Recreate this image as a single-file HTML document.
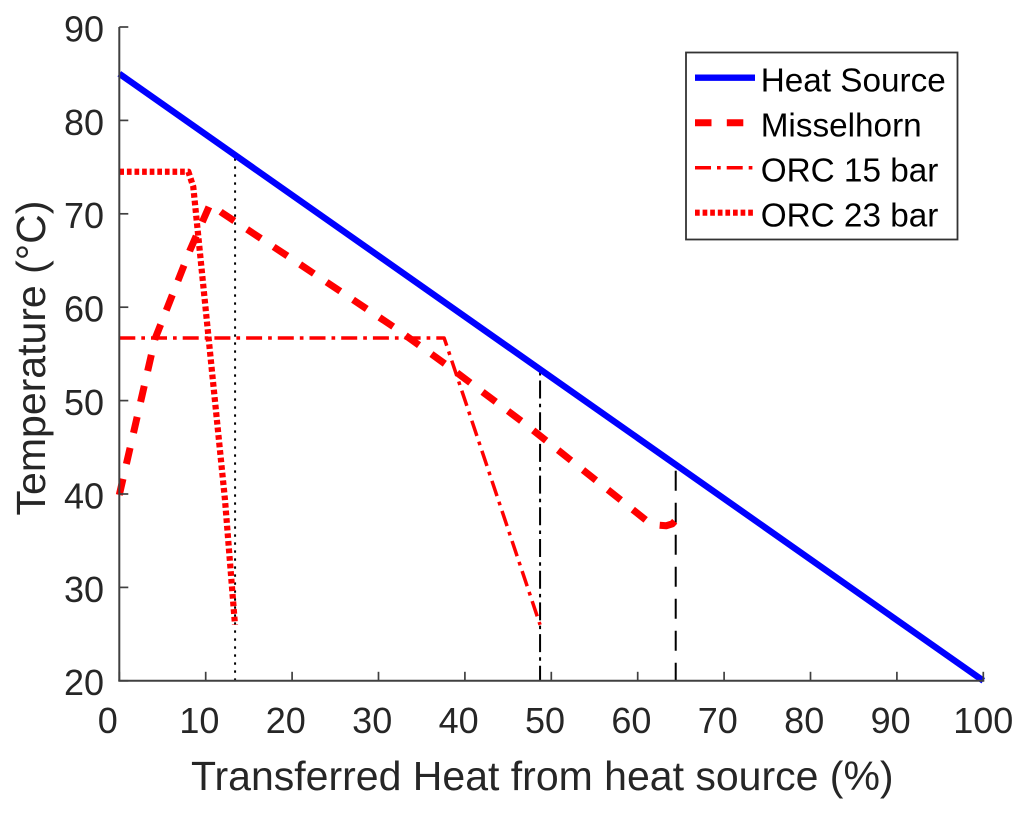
<!DOCTYPE html>
<html>
<head>
<meta charset="utf-8">
<title>Transferred Heat Chart</title>
<style>
html,body{margin:0;padding:0;background:#fff;width:1024px;height:814px;overflow:hidden}
svg{display:block;font-family:"Liberation Sans",sans-serif}
</style>
</head>
<body>
<svg id="chart" width="1024" height="814" viewBox="0 0 1024 814" xmlns="http://www.w3.org/2000/svg">
  <rect x="0" y="0" width="1024" height="814" fill="#fff"/>
  <g id="guides"></g>
  <g id="series"></g>
  <g id="axes"></g>
  <text x="191" y="790" font-size="41" fill="#262626">Transferred Heat from heat source (%)</text>
  <text transform="translate(45,358) rotate(-90)" text-anchor="middle" font-size="41" fill="#262626">Temperature (°C)</text>
  <g id="legend">
    <rect x="686" y="52.5" width="271.5" height="187" fill="#fff" stroke="#333" stroke-width="1.8"/>
  </g>
</svg>
<script>
var xTicks = [0,10,20,30,40,50,60,70,80,90,100];
var yTicks = [20,30,40,50,60,70,80,90];
var heatX = [0,100];
var heatY = [85,20];
var misselX = [0,4.13,8.18,10.4,10.6,11.9,19.6,31.9,37.9,46.7,55.4,61.1,62,63.3,64,64.4,64.7];
var misselY = [39.9,56.6,66.1,70.8,71,70.1,65.4,57.8,53.8,47.7,41.3,37.1,36.7,36.6,36.8,37.2,37.7];
var orc15X = [0,37.6,48.7];
var orc15Y = [56.7,56.7,26];
var orc23X = [0,8,8.56,12.23,13.39];
var orc23Y = [74.5,74.5,72.9,39.4,26];
var guideX = [13.4,48.7,64.4];
var guideTop = [76.3,53.4,43.1];
var legendLabels = ["Heat Source","Misselhorn","ORC 15 bar","ORC 23 bar"];

var NS = "http://www.w3.org/2000/svg";
function sx(v){ return 119.3 + v * 8.64; }
function sy(v){ return 680.8 - (v - 20) * 9.34; }
function make(tag, attrs, parent){
  var el = document.createElementNS(NS, tag);
  for (var k in attrs) el.setAttribute(k, attrs[k]);
  parent.appendChild(el);
  return el;
}
function polyPoints(xs, ys){
  return xs.map(function(x, i){ return sx(x).toFixed(2) + "," + sy(ys[i]).toFixed(2); }).join(" ");
}
var styles = [
  {stroke:"#0000ff", width:6.4, dash:"none"},
  {stroke:"#ff0000", width:7, dash:"16.5 15.3"},
  {stroke:"#ff0000", width:3.5, dash:"16 6 3.7 6"},
  {stroke:"#ff0000", width:6.2, dash:"4.7 2.9"}
];
var guideDash = ["2.4 5.6","18 5 3.5 5.2","20 12"];
var guideOffset = [0,3,2];

var guides = document.getElementById("guides");
guideX.forEach(function(g, i){
  var l = make("line", {x1:sx(g), x2:sx(g), y1:sy(20), y2:sy(guideTop[i]), stroke:"#000", "stroke-width":2, "stroke-dasharray":guideDash[i], "stroke-dashoffset":guideOffset[i]}, guides);
  
  
});

var seriesGroup = document.getElementById("series");
function drawSeries(xs, ys, style, name){
  var p = make("polyline", {points:polyPoints(xs, ys), fill:"none", stroke:style.stroke, "stroke-width":style.width, "stroke-linejoin":"round"}, seriesGroup);
  if (style.dash !== "none") p.setAttribute("stroke-dasharray", style.dash);
  
  
}
drawSeries(misselX, misselY, styles[1], 'series-misselhorn');
drawSeries(orc15X, orc15Y, styles[2], 'series-orc-15-bar');
drawSeries(orc23X, orc23Y, styles[3], 'series-orc-23-bar');
drawSeries(heatX, heatY, styles[0], 'series-heat-source');

var axes = document.getElementById("axes");
var axisColor = "#404040";
var xAxisLine = make("line", {x1:sx(0)-1, x2:sx(100)+1, y1:sy(20), y2:sy(20), stroke:axisColor, "stroke-width":2}, axes);


var yAxisLine = make("line", {x1:sx(0), x2:sx(0), y1:sy(20), y2:sy(90), stroke:axisColor, "stroke-width":2}, axes);



xTicks.forEach(function(v){
  var t = make("line", {x1:sx(v), x2:sx(v), y1:sy(20), y2:sy(20)-9, stroke:axisColor, "stroke-width":1.7}, axes);
  
  
  var nudge = v === 0 ? -11.5 : (v === 100 ? 0 : -6.3);
  var lb = make("text", {x:sx(v)+nudge, y:733, "text-anchor":"middle", "font-size":36, fill:"#262626"}, axes);
  lb.textContent = String(v);
  
  
});
yTicks.forEach(function(v){
  var t = make("line", {x1:sx(0), x2:sx(0)+9, y1:sy(v), y2:sy(v), stroke:axisColor, "stroke-width":1.7}, axes);
  
  
  var lb = make("text", {x:104, y:sy(v)+14.4, "text-anchor":"end", "font-size":36, fill:"#262626"}, axes);
  lb.textContent = String(v);
  
  
});

var legend = document.getElementById("legend");
legendLabels.forEach(function(name, i){
  var cy = 77.7 + i * 45;
  var st = styles[i];
  var ln = make("line", {x1:695, x2:755, y1:cy, y2:cy, stroke:st.stroke, "stroke-width":st.width}, legend);
  if (st.dash !== "none") ln.setAttribute("stroke-dasharray", st.dash);
  
  
  var tx = make("text", {x:760.7, y:cy+14, "font-size":33.3, fill:"#000"}, legend);
  tx.textContent = name;
  
  
});
</script>
</body>
</html>
